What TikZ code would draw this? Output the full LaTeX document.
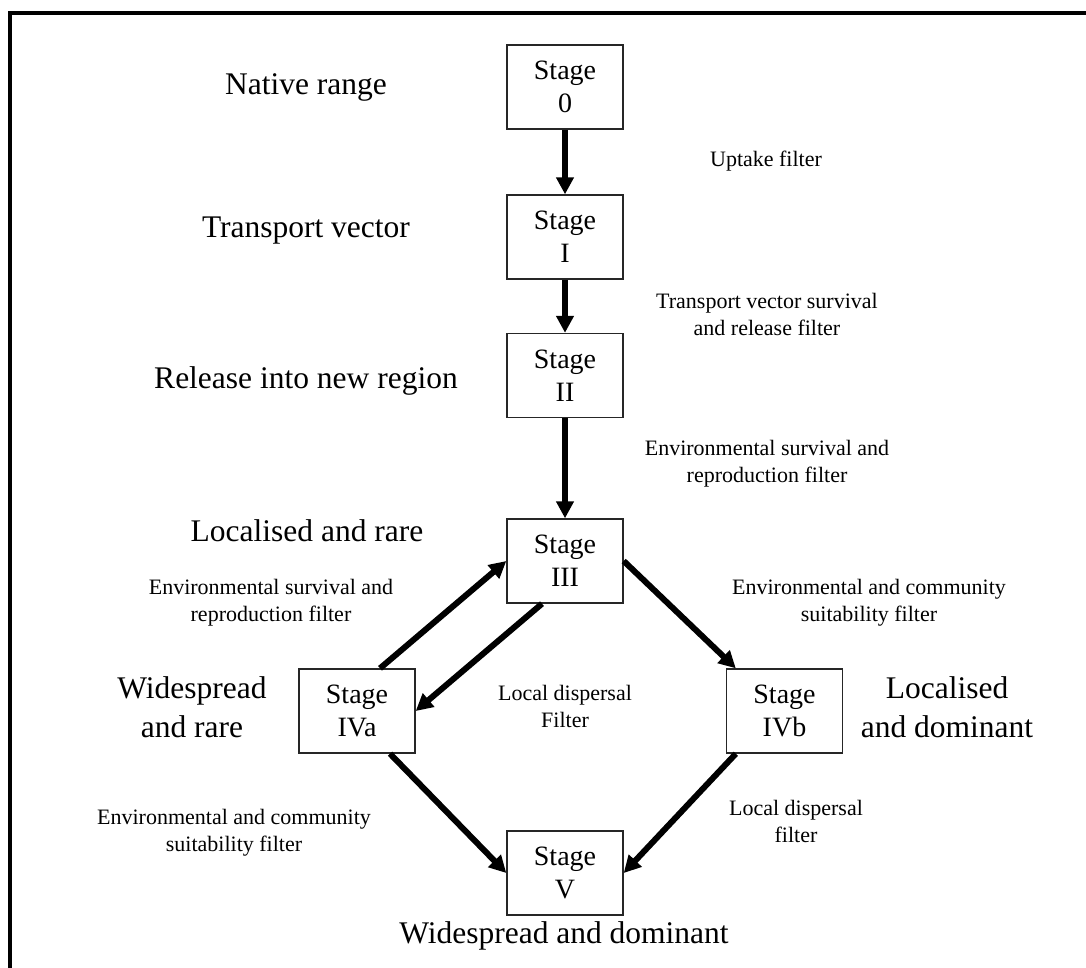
\documentclass[tikz,border=0pt]{standalone}
\usepackage{fontspec}
\setmainfont{Liberation Serif}
\usetikzlibrary{arrows.meta}
\begin{document}
\begin{tikzpicture}[x=1pt,y=-1pt,
  stagebox/.style={draw=black!85, line width=1.4pt, minimum width=116pt, minimum height=84pt,
    inner sep=0pt, align=center, font=\fontsize{28}{33}\selectfont},
  biglabel/.style={align=center, inner sep=0pt, font=\fontsize{31.5}{39}\selectfont},
  smalllabel/.style={align=center, inner sep=0pt, font=\fontsize{22}{27}\selectfont},
  flow/.style={line width=6pt, -{Triangle[length=17pt,width=17pt]}}
]
\useasboundingbox (0,0) rectangle (1086,967);
% frame
\draw[line width=4.5pt, line join=miter] (10,990) -- (10,13) -- (1100,13);

% stage boxes
\node[stagebox] (s0) at (565,87) {Stage\\0};
\node[stagebox] (s1) at (565,237) {Stage\\I};
\node[stagebox] (s2) at (565,375.5) {Stage\\II};
\node[stagebox] (s3) at (565,561) {Stage\\III};
\node[stagebox] (s4a) at (357,711) {Stage\\IVa};
\node[stagebox] (s4b) at (784.5,711) {Stage\\IVb};
\node[stagebox] (s5) at (565,873) {Stage\\V};

% big labels
\node[biglabel] (l0) at (306,87) {Native range};
\node[biglabel] (l1) at (306,231) {Transport vector};
\node[biglabel] (l2) at (306,381) {Release into new region};
\node[biglabel] (l3) at (307,531) {Localised and rare};
\node[biglabel] (l4a) at (192,707) {Widespread\\and rare};
\node[biglabel] (l4b) at (947,707) {Localised\\and dominant};
\node[biglabel] (l5) at (564,936) {Widespread and dominant};

% filter labels
\node[smalllabel] (f0) at (766,161) {Uptake filter};
\node[smalllabel] (f1) at (767,314) {Transport vector survival\\and release filter};
\node[smalllabel] (f2) at (767,464) {Environmental survival and\\reproduction filter};
\node[smalllabel] (f3) at (271,603) {Environmental survival and\\reproduction filter};
\node[smalllabel] (f4) at (869,603) {Environmental and community\\suitability filter};
\node[smalllabel] (f5) at (565,706) {Local dispersal\\Filter};
\node[smalllabel] (f6) at (234,833) {Environmental and community\\suitability filter};
\node[smalllabel] (f7) at (796,821) {Local dispersal\\filter};

% arrows
\draw[flow] (s0.south) -- (s1.north);
\draw[flow] (s1.south) -- (s2.north);
\draw[flow] (s2.south) -- (s3.north);
\draw[flow] ([xshift=23pt]s4a.north) -- (s3.west);
\draw[flow] ([xshift=-23pt]s3.south) -- (s4a.east);
\draw[flow] (s3.east) -- ([xshift=10pt]s4b.north west);
\draw[flow] ([xshift=33pt]s4a.south) -- (s5.west);
\draw[flow] ([xshift=10pt]s4b.south west) -- (s5.east);
\end{tikzpicture}
\end{document}
